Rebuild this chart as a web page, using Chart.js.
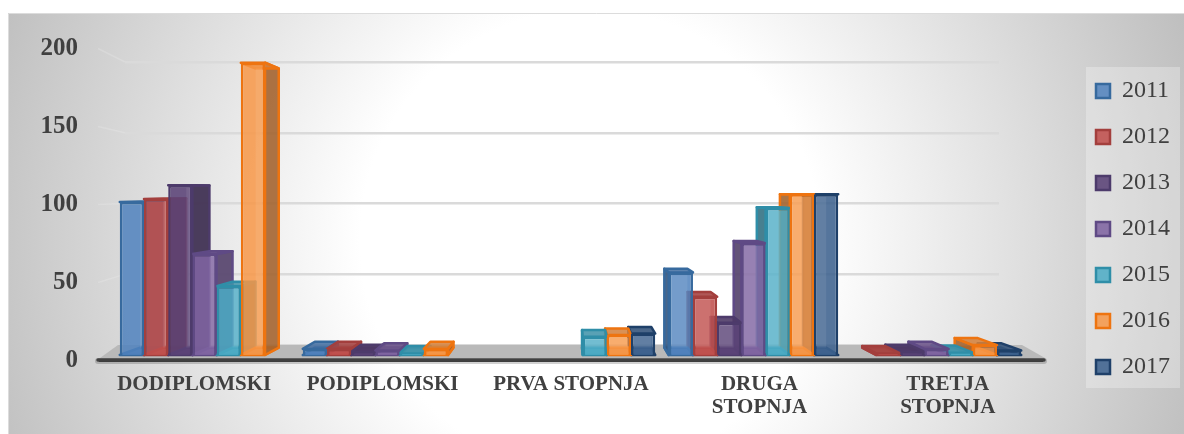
<!DOCTYPE html>
<html>
<head>
<meta charset="utf-8">
<style>html,body{margin:0;padding:0;background:#fff}canvas{display:block}</style>
<script src="https://cdn.jsdelivr.net/npm/chart.js@4"></script>
</head>
<body>
<canvas id="c" width="1184" height="434"></canvas>
<script>
const categories = ['DODIPLOMSKI','PODIPLOMSKI','PRVA STOPNJA',['DRUGA','STOPNJA'],['TRETJA','STOPNJA']];
const years = ['2011','2012','2013','2014','2015','2016','2017'];
const v2011 = [100,4,null,54,null];
const v2012 = [102,4,null,38,1];
const v2013 = [111,2,null,21,2];
const v2014 = [66,3,null,73,4];
const v2015 = [45,1,12,96,1.5];
const v2016 = [191,4,13,105,6.5];
const v2017 = [null,null,14,105,3];
const series = [v2011,v2012,v2013,v2014,v2015,v2016,v2017];
const fills = ['rgba(79,129,189,.85)','rgba(192,80,77,.88)','rgba(90,66,118,.88)','rgba(128,100,162,.88)','rgba(75,172,198,.85)','rgba(247,150,70,.85)','rgba(62,98,142,.88)'];
const edges = ['#376a9e','#a33f3d','#4d3b6b','#5f4a85','#2f8ea8','#ee7410','#1f4069'];
const yTicksStep = 50;

const DEPTH = 0.045, VX = 570, VY = 190;
const back = (x,y)=>[x+(VX-x)*DEPTH, y+(VY-y)*DEPTH];
function poly(ctx,pts){ctx.beginPath();pts.forEach((p,i)=>i?ctx.lineTo(p[0],p[1]):ctx.moveTo(p[0],p[1]));ctx.closePath();}
function eachBar(chart,cb){
  chart.data.datasets.forEach((ds,di)=>{
    chart.getDatasetMeta(di).data.forEach((el,i)=>{
      if(ds.data[i]!==null && ds.data[i]!==undefined) cb(el,di);
    });
  });
}
const scenePlugin = {
  id:'scene',
  afterLayout(chart){
    const s = chart.scales;
    const set=(a,o)=>{Object.assign(a,o);a.width=a.right-a.left;a.height=a.bottom-a.top;a.configure();};
    chart.chartArea = {left:125,right:999,top:62,bottom:345,width:874,height:283};
    set(s.x,{left:100,right:1042,top:360,bottom:430});
    set(s.xBars,{left:113,right:1028,top:355,bottom:360});
    set(s.y,{left:0,right:84,top:48.5,bottom:360.5});
    set(s.yGrid,{left:125,right:125,top:62,bottom:345});
    set(s.yBars,{left:125,right:125,top:49,bottom:355});
    const l = chart.legend;
    l.left=1074; l.right=1180; l.top=57; l.bottom=434; l.width=106; l.height=377;
  },
  beforeDraw(chart){
    const c = chart.ctx;
    c.save();
    c.fillStyle='#fff';c.fillRect(0,0,1184,434);
    const g = c.createRadialGradient(590,240,230,590,240,640);
    g.addColorStop(0,'#ffffff');g.addColorStop(1,'#bebebe');
    c.fillStyle=g;c.fillRect(8,13,1176,421);
    c.strokeStyle='#dcdcdc';c.lineWidth=1;
    c.beginPath();c.moveTo(8.5,434);c.lineTo(8.5,13.5);c.lineTo(1184,13.5);c.stroke();
    c.fillStyle='rgba(255,255,255,.28)';c.fillRect(1086,67,94,321);
    // faint side-wall lines
    const sy=chart.scales.y, sg=chart.scales.yGrid;
    c.strokeStyle='rgba(235,235,235,.3)';c.lineWidth=1.5;
    [200,150,100,50].forEach(v=>{
      c.beginPath();c.moveTo(98,sy.getPixelForValue(v));c.lineTo(125,sg.getPixelForValue(v));c.stroke();
    });
    c.restore();
  },
  beforeDatasetsDraw(chart){
    const c = chart.ctx;
    c.save();
    // floor
    c.fillStyle='#b9b9b9';
    poly(c,[[118,345],[1022,345],[1045,358],[100,358]]);c.fill();
    // axis line end caps and soft shadow
    c.lineCap='round';
    c.strokeStyle='rgba(0,0,0,.18)';c.lineWidth=6;
    c.beginPath();c.moveTo(98,361);c.lineTo(1044,361);c.stroke();
    c.strokeStyle='#404040';c.lineWidth=3.5;
    c.beginPath();c.moveTo(98,360);c.lineTo(1044,360);c.stroke();
    // back, top and side faces, from the outside toward the vanishing point
    const faces=[];
    eachBar(chart,(el,di)=>faces.push({el,di,k:Math.abs(el.x-VX)}));
    faces.sort((a,b)=>b.k-a.k);
    faces.forEach(({el,di})=>{
      const L=el.x-el.width/2,R=el.x+el.width/2,T=el.y,B=el.base;
      const bTL=back(L,T),bTR=back(R,T),bBL=back(L,B),bBR=back(R,B);
      c.lineWidth=2.5;c.lineJoin='round';c.strokeStyle=edges[di];
      const paint=(pts,shade)=>{
        poly(c,pts);c.fillStyle=fills[di];c.fill();
        c.fillStyle='rgba(0,0,0,'+shade+')';c.fill();c.stroke();
      };
      paint([[L,B],[R,B],bBR,bBL],0.05);
      if(bTL[0]>L) paint([[R,T],[R,B],bBR,bTR],0.3);
      else paint([[L,T],[L,B],bBL,bTL],0.3);
      paint([[L,T],[R,T],bTR,bTL],0.12);
    });
    c.restore();
  },
  afterDatasetsDraw(chart){
    const c = chart.ctx;
    eachBar(chart,(el)=>{
      const L=el.x-el.width/2,R=el.x+el.width/2,T=el.y,B=el.base;
      const a=back(L,T),b=back(R,B);
      const x1=Math.max(L+2.5,a[0]),x2=Math.min(R-2.5,b[0]),y1=Math.max(T+2.5,a[1]),y2=Math.min(B-2.5,b[1]);
      if(x2>x1&&y2>y1){
        c.save();
        c.fillStyle='rgba(255,255,255,.08)';
        c.fillRect(x1,y1,x2-x1,y2-y1);
        c.restore();
      }
    });
  }
};

new Chart(document.getElementById('c'),{
  type:'bar',
  data:{
    labels:categories,
    datasets:series.map((d,i)=>({
      label:years[i],data:d,xAxisID:'xBars',yAxisID:'yBars',clip:false,
      backgroundColor:fills[i],borderColor:edges[i],borderWidth:2.5,
      categoryPercentage:0.926,barPercentage:1
    }))
  },
  options:{
    responsive:false,animation:false,devicePixelRatio:1,
    layout:{padding:0},
    plugins:{
      tooltip:{enabled:false},
      legend:{display:true,position:'right',align:'start',
        labels:{boxWidth:14,boxHeight:14,padding:22,color:'#404040',font:{family:'"Liberation Serif"',size:24}}}
    },
    scales:{
      x:{type:'category',position:'bottom',offset:true,
        grid:{display:false,drawTicks:false},
        border:{display:true,color:'#404040',width:3},
        ticks:{color:'#404040',padding:13,autoSkip:false,maxRotation:0,minRotation:0,
          font:{family:'"Liberation Serif"',size:21,weight:'bold',lineHeight:1.1}}},
      xBars:{type:'category',position:'bottom',offset:true,display:false},
      y:{type:'linear',position:'left',min:0,max:200,
        grid:{display:false,drawTicks:false},border:{display:false},
        ticks:{stepSize:yTicksStep,color:'#404040',padding:6,font:{family:'"Liberation Serif"',size:25,weight:'bold'}}},
      yGrid:{type:'linear',position:'left',min:0,max:200,
        grid:{display:true,drawTicks:false,color:'#dadada',lineWidth:2.5},border:{display:false},
        ticks:{display:false,stepSize:yTicksStep}},
      yBars:{type:'linear',position:'left',min:0,max:200,display:false}
    }
  },
  plugins:[scenePlugin]
});
</script>
</body>
</html>
